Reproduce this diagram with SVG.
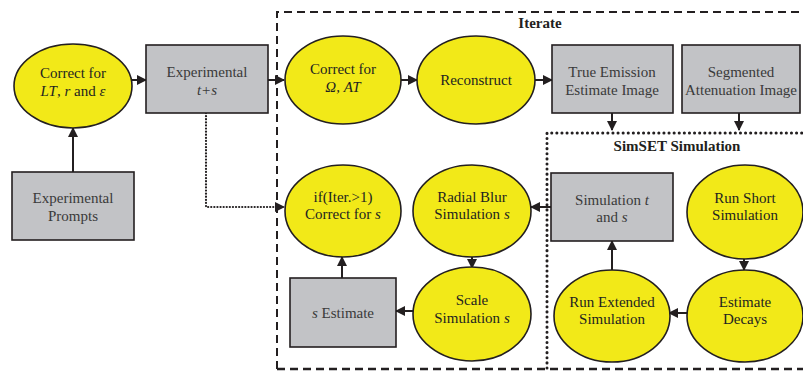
<svg xmlns="http://www.w3.org/2000/svg" width="803" height="372" viewBox="0 0 803 372">
<style>
.e{fill:#f2e918;stroke:#231f20;stroke-width:1.6}
.b{fill:#c2c3c6;stroke:#231f20;stroke-width:1.6}
text{font-family:'Liberation Serif','DejaVu Serif',serif;font-size:15px;fill:#231f20;text-anchor:middle}
.bx text{fill:#3a3a3a}
.t{font-weight:bold}
.c{stroke:#231f20;stroke-width:2;fill:none}
</style>
<defs>
<marker id="a" markerWidth="10" markerHeight="10" refX="9" refY="5" orient="auto" markerUnits="userSpaceOnUse">
<path d="M0,0 L10,5 L0,10 Z" fill="#231f20"/>
</marker>
</defs>
<g id="frames">
<path d="M277,369 L277,12 L803,12" fill="none" stroke="#231f20" stroke-width="2" stroke-dasharray="8,5"/>
<path d="M277,369 L803,369" fill="none" stroke="#231f20" stroke-width="2.5" stroke-dasharray="8,5"/>
<text class="t" x="540" y="28">Iterate</text>
<path d="M547,368 L547,133 L803,133" fill="none" stroke="#231f20" stroke-width="3" stroke-dasharray="0.1,5" stroke-linecap="round"/>
<text class="t" x="677" y="151">SimSET Simulation</text>
</g>
<g id="connectors">
<line class="c" x1="73" y1="172" x2="73" y2="128" marker-end="url(#a)"/>
<line class="c" x1="132" y1="80" x2="146" y2="80" marker-end="url(#a)"/>
<line class="c" x1="268" y1="80" x2="284" y2="80" marker-end="url(#a)"/>
<line class="c" x1="401" y1="80" x2="417" y2="80" marker-end="url(#a)"/>
<line class="c" x1="535" y1="80" x2="552" y2="80" marker-end="url(#a)"/>
<line class="c" x1="612" y1="113" x2="612" y2="130" marker-end="url(#a)"/>
<line class="c" x1="739" y1="113" x2="739" y2="130" marker-end="url(#a)"/>
<path d="M206,113 L206,207 L284,207" fill="none" stroke="#231f20" stroke-width="2.2" stroke-dasharray="0.1,3" stroke-linecap="round" marker-end="url(#a)"/>
<line class="c" x1="551" y1="207" x2="531" y2="207" marker-end="url(#a)"/>
<line class="c" x1="472" y1="257" x2="472" y2="268" marker-end="url(#a)"/>
<line class="c" x1="413" y1="311" x2="396" y2="311" marker-end="url(#a)"/>
<line class="c" x1="342" y1="278" x2="342" y2="257" marker-end="url(#a)"/>
<line class="c" x1="744" y1="259" x2="744" y2="270" marker-end="url(#a)"/>
<line class="c" x1="687" y1="313" x2="669" y2="313" marker-end="url(#a)"/>
<line class="c" x1="612" y1="270" x2="612" y2="241" marker-end="url(#a)"/>
</g>
<g id="n1"><ellipse class="e" cx="73" cy="86" rx="59" ry="42"/><text x="73" y="78">Correct for</text><text x="73" y="96"><tspan font-style="italic">LT</tspan>, <tspan font-style="italic">r</tspan> and <tspan font-style="italic">ε</tspan></text></g>
<g id="n2" class="bx"><rect class="b" x="12" y="172" width="122" height="68"/><text x="73" y="203">Experimental</text><text x="73" y="221">Prompts</text></g>
<g id="n3" class="bx"><rect class="b" x="146" y="45" width="122" height="68"/><text x="207" y="77">Experimental</text><text x="207" y="95" font-style="italic">t+s</text></g>
<g id="n4"><ellipse class="e" cx="343" cy="80" rx="58" ry="44"/><text x="343" y="74">Correct for</text><text x="343" y="92" font-style="italic">Ω, AT</text></g>
<g id="n5"><ellipse class="e" cx="476" cy="80" rx="59" ry="44"/><text x="476" y="85">Reconstruct</text></g>
<g id="n6" class="bx"><rect class="b" x="552" y="45" width="121" height="68"/><text x="612" y="77">True Emission</text><text x="612" y="95">Estimate Image</text></g>
<g id="n7" class="bx"><rect class="b" x="682" y="45" width="118" height="68"/><text x="741" y="77">Segmented</text><text x="741" y="95">Attenuation Image</text></g>
<g id="n8"><ellipse class="e" cx="343" cy="211" rx="58" ry="46"/><text x="343" y="202">if(Iter.&gt;1)</text><text x="343" y="219">Correct for <tspan font-style="italic">s</tspan></text></g>
<g id="n9"><ellipse class="e" cx="472" cy="211" rx="59" ry="46"/><text x="472" y="202">Radial Blur</text><text x="472" y="219">Simulation <tspan font-style="italic">s</tspan></text></g>
<g id="n10"><ellipse class="e" cx="472" cy="314" rx="59" ry="47"/><text x="472" y="305">Scale</text><text x="472" y="323">Simulation <tspan font-style="italic">s</tspan></text></g>
<g id="n11" class="bx"><rect class="b" x="290" y="278" width="106" height="69"/><text x="343" y="318"><tspan font-style="italic">s</tspan> Estimate</text></g>
<g id="n12" class="bx"><rect class="b" x="551" y="173" width="122" height="68"/><text x="612" y="205">Simulation <tspan font-style="italic">t</tspan></text><text x="612" y="222">and <tspan font-style="italic">s</tspan></text></g>
<g id="n13"><ellipse class="e" cx="745" cy="212" rx="58" ry="47"/><text x="745" y="203">Run Short</text><text x="745" y="220">Simulation</text></g>
<g id="n14"><ellipse class="e" cx="745" cy="316" rx="58" ry="46"/><text x="745" y="307">Estimate</text><text x="745" y="324">Decays</text></g>
<g id="n15"><ellipse class="e" cx="612" cy="316" rx="58" ry="46"/><text x="612" y="307">Run Extended</text><text x="612" y="324">Simulation</text></g>
</svg>
